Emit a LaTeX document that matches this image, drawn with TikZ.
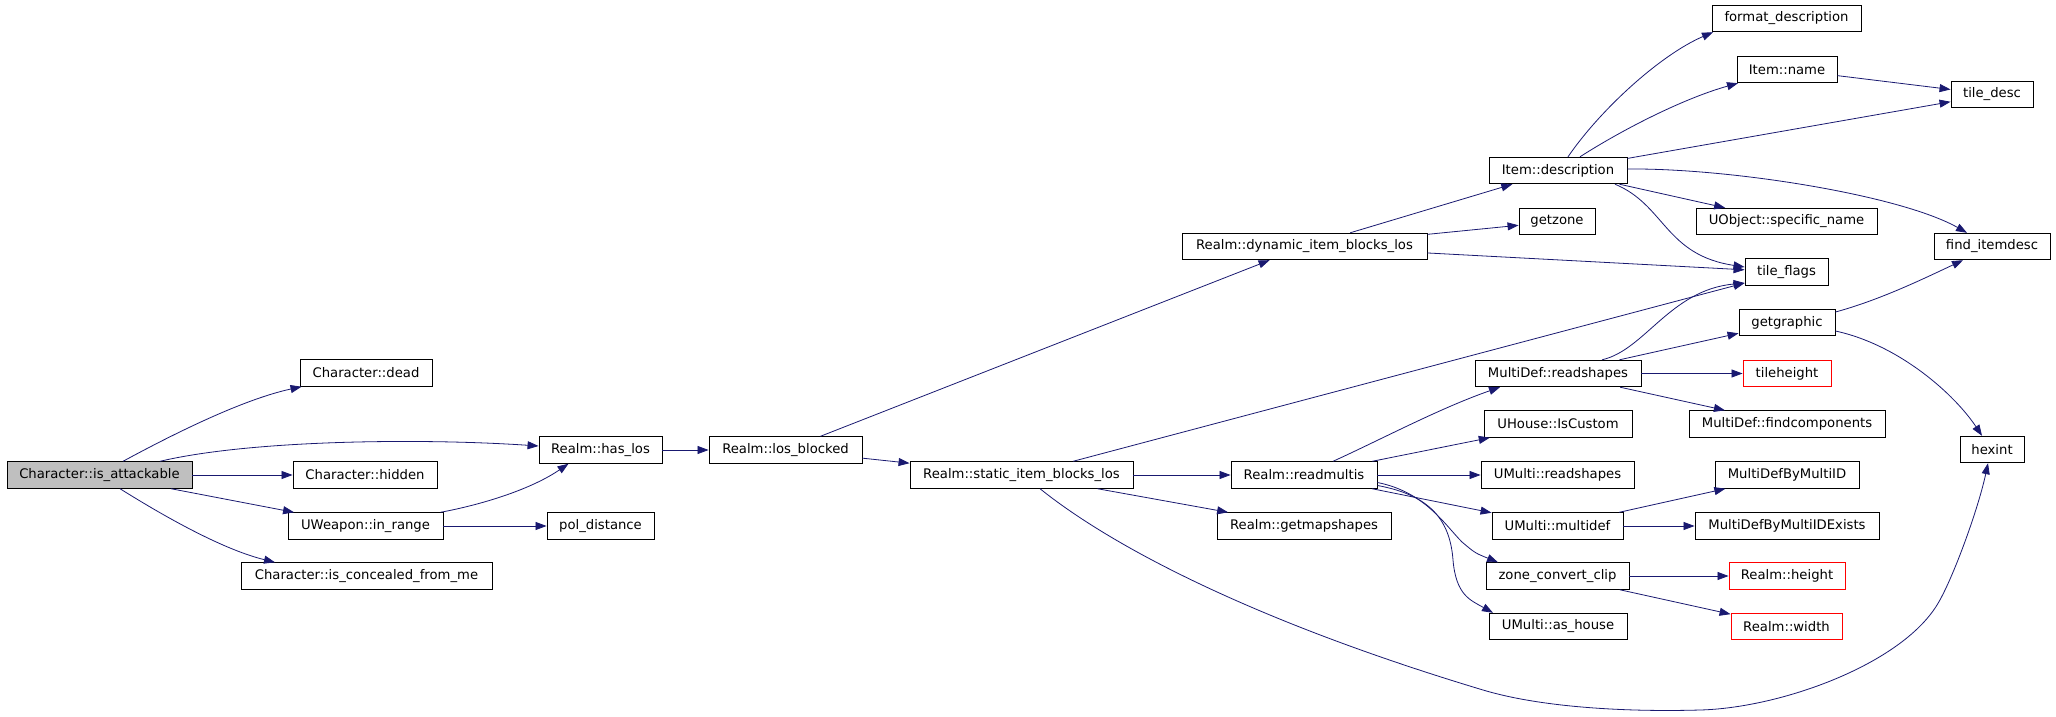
\documentclass[tikz,border=0pt]{standalone}
\usepackage{fontspec}
\newfontfamily\graphfont{DejaVu Sans}
\usepackage{tikz}
\usetikzlibrary{arrows.meta}
\definecolor{edgeblue}{HTML}{191970}

\begin{document}
\begin{tikzpicture}[x=1pt, y=-1pt,
    fn/.style={draw, rectangle, line width=0.9pt, inner sep=0pt, minimum height=26.5pt,
               font=\graphfont\fontsize{13.2}{15}\selectfont},
    fnred/.style={fn, draw=red},
    fnroot/.style={fn, fill=gray!50},
    call/.style={draw=edgeblue, line width=0.8pt, -{Triangle[length=11pt, width=8pt]}}]
        \useasboundingbox (0,0) rectangle (2056,717);

        \node[fnroot, minimum width=185pt] (isAttackable) at (99.5, 475) {Character::is\_attackable};
        \node[fn, minimum width=132pt] (chDead) at (366, 373) {Character::dead};
        \node[fn, minimum width=144pt] (chHidden) at (365, 475) {Character::hidden};
        \node[fn, minimum width=155pt] (wpInRange) at (365.5, 526) {UWeapon::in\_range};
        \node[fn, minimum width=251pt] (chConcealed) at (366.5, 576) {Character::is\_concealed\_from\_me};
        \node[fn, minimum width=123pt] (hasLos) at (600.5, 450) {Realm::has\_los};
        \node[fn, minimum width=107pt] (polDistance) at (600.5, 526) {pol\_distance};
        \node[fn, minimum width=153pt] (losBlocked) at (785.5, 450) {Realm::los\_blocked};
        \node[fn, minimum width=223pt] (staticBlocks) at (1021.5, 475) {Realm::static\_item\_blocks\_los};
        \node[fn, minimum width=245pt] (dynamicBlocks) at (1304.5, 246.5) {Realm::dynamic\_item\_blocks\_los};
        \node[fn, minimum width=146pt] (readMultis) at (1304, 475) {Realm::readmultis};
        \node[fn, minimum width=174pt] (getMapShapes) at (1304, 526) {Realm::getmapshapes};
        \node[fn, minimum width=138pt] (itemDescription) at (1558, 170.5) {Item::description};
        \node[fn, minimum width=76pt] (getZone) at (1557, 221.5) {getzone};
        \node[fn, minimum width=166pt] (mdReadShapes) at (1558, 373.5) {MultiDef::readshapes};
        \node[fn, minimum width=148pt] (uhIsCustom) at (1558, 424) {UHouse::IsCustom};
        \node[fn, minimum width=153pt] (umReadShapes) at (1557.5, 475) {UMulti::readshapes};
        \node[fn, minimum width=131pt] (umMultiDef) at (1557.5, 526) {UMulti::multidef};
        \node[fn, minimum width=143pt] (zoneClip) at (1557.5, 576) {zone\_convert\_clip};
        \node[fn, minimum width=138pt] (umAsHouse) at (1558, 626.5) {UMulti::as\_house};
        \node[fn, minimum width=149pt] (formatDesc) at (1786.5, 18.5) {format\_description};
        \node[fn, minimum width=100pt] (itemName) at (1787, 69.5) {Item::name};
        \node[fn, minimum width=181pt] (specificName) at (1786.5, 221.5) {UObject::specific\_name};
        \node[fn, minimum width=83pt] (tileFlags) at (1786.5, 272) {tile\_flags};
        \node[fn, minimum width=96pt] (getGraphic) at (1787, 322.5) {getgraphic};
        \node[fnred, minimum width=88pt] (tileHeight) at (1787, 373.5) {tileheight};
        \node[fn, minimum width=196pt] (findComponents) at (1787, 424) {MultiDef::findcomponents};
        \node[fn, minimum width=144pt] (mdByID) at (1787, 475) {MultiDefByMultiID};
        \node[fn, minimum width=184pt] (mdByIDExists) at (1787, 526) {MultiDefByMultiIDExists};
        \node[fnred, minimum width=116pt] (realmHeight) at (1787, 576) {Realm::height};
        \node[fnred, minimum width=111pt] (realmWidth) at (1786.5, 626.5) {Realm::width};
        \node[fn, minimum width=82pt] (tileDesc) at (1992, 94.5) {tile\_desc};
        \node[fn, minimum width=116pt] (findItemDesc) at (1992, 246.5) {find\_itemdesc};
        \node[fn, minimum width=64pt] (hexint) at (1992, 449.5) {hexint};

        \path (isAttackable) edge[call] (chHidden)
              (isAttackable) edge[call] (wpInRange)
              (wpInRange) edge[call] (polDistance)
              (hasLos) edge[call] (losBlocked)
              (losBlocked) edge[call] (staticBlocks)
              (losBlocked) edge[call] (dynamicBlocks)
              (dynamicBlocks) edge[call] (itemDescription)
              (dynamicBlocks) edge[call] (getZone)
              (dynamicBlocks) edge[call] (tileFlags)
              (staticBlocks) edge[call] (tileFlags)
              (staticBlocks) edge[call] (readMultis)
              (staticBlocks) edge[call] (getMapShapes)
              (readMultis) edge[call] (uhIsCustom)
              (readMultis) edge[call] (umReadShapes)
              (readMultis) edge[call] (umMultiDef)
              (itemDescription) edge[call] (tileDesc)
              (itemDescription) edge[call] (specificName)
              (itemName) edge[call] (tileDesc)
              (mdReadShapes) edge[call] (getGraphic)
              (mdReadShapes) edge[call] (tileHeight)
              (mdReadShapes) edge[call] (findComponents)
              (umMultiDef) edge[call] (mdByID)
              (umMultiDef) edge[call] (mdByIDExists)
              (zoneClip) edge[call] (realmHeight)
              (zoneClip) edge[call] (realmWidth);

        \draw[call] ([xshift=23.5pt]isAttackable.north) .. controls (166,438) and (240,400) .. ([xshift=2pt]chDead.south west);
        \draw[call] ([xshift=60.5pt]isAttackable.north) .. controls (250,440) and (420,438) .. ([yshift=4pt]hasLos.west);
        \draw[call] ([xshift=20.5pt]isAttackable.south) .. controls (170,520) and (225,550) .. ([xshift=-91.5pt]chConcealed.north);
        \draw[call] ([xshift=-3pt]wpInRange.north east) .. controls (480,505) and (530,490) .. ([xshift=-32pt]hasLos.south);
        \draw[call] ([xshift=18.5pt]staticBlocks.south) .. controls (1110,545) and (1250,620) .. (1483,690)
                    .. controls (1543,708) and (1630,712) .. (1700,710)
                    .. controls (1780,708) and (1900,665) .. (1937,605)
                    .. controls (1952,581) and (1978,510) .. ([xshift=-4pt]hexint.south);
        \draw[call] ([xshift=29pt]readMultis.north) .. controls (1380,440) and (1440,408) .. ([xshift=-58pt]mdReadShapes.south);
        \draw[call] ([yshift=-7.5pt]readMultis.east) .. controls (1425,492) and (1445,525) .. (1462,542)
                    .. controls (1475,553) .. ([xshift=-59.5pt]zoneClip.north);
        \draw[call] ([yshift=-10.5pt]readMultis.east) .. controls (1430,495) and (1450,520) .. (1453,560)
                    .. controls (1456,595) and (1470,600) .. ([xshift=-65pt]umAsHouse.north);
        \draw[call] ([xshift=10pt]itemDescription.north) .. controls (1600,110) and (1660,55) .. ([xshift=-73.5pt]formatDesc.south);
        \draw[call] ([xshift=22pt]itemDescription.north) .. controls (1625,128) and (1685,98) .. ([xshift=-49pt]itemName.south);
        \draw[call] ([yshift=1.5pt]itemDescription.east) .. controls (1730,168) and (1900,195) .. ([xshift=-25pt]findItemDesc.north);
        \draw[call] ([xshift=57pt]itemDescription.south) .. controls (1665,205) and (1665,255) .. ([yshift=5pt]tileFlags.west);
        \draw[call] ([xshift=44pt]mdReadShapes.north) .. controls (1645,350) and (1670,290) .. ([yshift=-11pt]tileFlags.west);
        \draw[call] ([yshift=10.5pt]getGraphic.east) .. controls (1880,300) and (1925,278) .. ([xshift=-29pt]findItemDesc.south);
        \draw[call] ([yshift=-8.5pt]getGraphic.east) .. controls (1900,345) and (1955,395) .. ([xshift=-10pt]hexint.north);
    \end{tikzpicture}
\end{document}
